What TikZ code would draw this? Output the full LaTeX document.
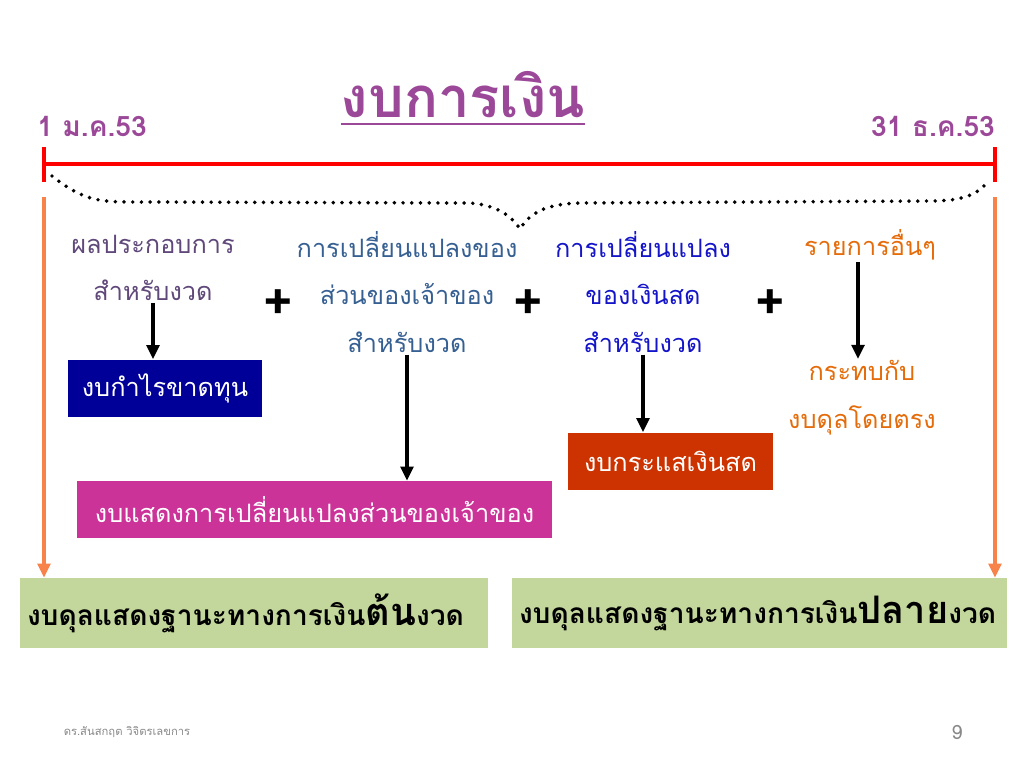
\documentclass[tikz,border=0pt]{standalone}
\usepackage{fontspec}
\setmainfont[Script=Thai]{Loma}
\usetikzlibrary{arrows.meta, positioning, calc}
\definecolor{titlepurple}{RGB}{155,72,152}
\definecolor{linered}{RGB}{255,0,0}
\definecolor{arroworange}{RGB}{247,131,74}
\definecolor{txtplum}{RGB}{96,73,122}
\definecolor{txtsteel}{RGB}{54,96,146}
\definecolor{txtblue}{RGB}{20,20,200}
\definecolor{txtorange}{RGB}{228,108,10}
\definecolor{fillnavy}{RGB}{0,0,153}
\definecolor{fillmagenta}{RGB}{204,51,153}
\definecolor{fillrust}{RGB}{204,51,0}
\definecolor{fillgreen}{RGB}{195,214,155}
\definecolor{footgray}{RGB}{137,137,137}
\newcommand{\px}{0.025cm}

\begin{document}
\begin{tikzpicture}[x=0.025cm, y=-0.025cm,
    coltext/.style={align=center, inner sep=1pt, font=\fontsize{18}{34}\selectfont},
    plus/.style={font=\fontsize{36}{36}\selectfont\bfseries},
    datetxt/.style={titlepurple, font=\fontsize{20}{20}\selectfont\bfseries},
    stmt/.style={minimum height=57*\px, text=white, inner sep=0pt,
                 font=\fontsize{18}{18}\selectfont},
    balance/.style={fill=fillgreen, minimum height=70*\px, text width=#1,
                    inner xsep=7*\px, inner ysep=0pt,
                    font=\fontsize{20}{20}\selectfont\bfseries},
    blk/.style={-{Triangle[width=9pt,length=10pt]}, line width=2.5pt},
    orng/.style={-{Triangle[width=9pt,length=10pt]}, line width=2.8pt, arroworange}
  ]
    \useasboundingbox (0,0) rectangle (1024,768);

    % title and dates
    \node[inner sep=0pt, titlepurple, font=\fontsize{40}{40}\selectfont\bfseries]
      (title) at (463,95) {งบการเงิน};
    \draw[titlepurple, line width=1.4pt]
      ($(title.base west)+(0,6)$) -- ($(title.base east)+(0,6)$);
    \node[datetxt] (start) at (92,126) {1 ม.ค.53};
    \node[datetxt] (end) at (933,126) {31 ธ.ค.53};

    % time line
    \coordinate (tl) at (44,164);
    \coordinate (tr) at (995,164);
    \draw[linered, line width=2.8pt] (tl) -- (tr);
    \draw[linered, line width=2.8pt] (44,147) -- (44,182);
    \draw[linered, line width=2.8pt] (995,147) -- (995,182);

    % dotted brace
    \draw[line width=2.8pt, line cap=round, dash pattern=on 0pt off 6.2pt]
      (52,176) .. controls (85,202) and (100,202) .. (140,202) -- (470,203)
      .. controls (495,205) and (510,214) .. (520,229)
      .. controls (530,213) and (545,204) .. (580,203) -- (930,201)
      .. controls (962,201) and (978,195) .. (988,181);

    % orange side arrows
    \coordinate (ls) at (44,197);
    \coordinate (rs) at (995,197);

    % columns
    \node[coltext, txtplum] (res) at (153,268) {ผลประกอบการ\\สำหรับงวด};
    \node[plus] (p1) at (278,305) {+};
    \node[coltext, txtsteel] (eq) at (407,292) {การเปลี่ยนแปลงของ\\ส่วนของเจ้าของ\\สำหรับงวด};
    \node[plus] (p2) at (528,305) {+};
    \node[coltext, txtblue] (cash) at (643,292) {การเปลี่ยนแปลง\\ของเงินสด\\สำหรับงวด};
    \node[plus] (p3) at (770,305) {+};
    \node[coltext, txtorange] (oth) at (870,245) {รายการอื่นๆ};
    \node[coltext, txtorange] (dir) at (862,398) {กระทบกับ\\งบดุลโดยตรง};

    % statements
    \node[stmt, fill=fillnavy, minimum width=194*\px] (pl) at (165,388) {งบกำไรขาดทุน};
    \node[stmt, fill=fillmagenta, minimum width=475*\px] (eqbox) at (314.5,509.5)
      {งบแสดงการเปลี่ยนแปลงส่วนของเจ้าของ};
    \node[stmt, fill=fillrust, minimum width=205*\px] (cfbox) at (670.5,461) {งบกระแสเงินสด};

    \node[balance=454*\px] (bs1) at (254,613)
      {งบดุลแสดงฐานะทางการเงิน{\fontsize{27}{27}\selectfont ต้น}งวด};
    \node[balance=481*\px] (bs2) at (759.5,613)
      {งบดุลแสดงฐานะทางการเงิน{\fontsize{27}{27}\selectfont ปลาย}งวด};

    % connectors
    \draw[blk] (res.south) -- (res.south |- pl.north);
    \draw[blk] (eq.south) -- (eq.south |- eqbox.north);
    \draw[blk] (cash.south) -- (cash.south |- cfbox.north);
    \draw[blk] ([xshift=-12*\px]oth.south) -- ([xshift=-12*\px]oth.south |- dir.north);
    \draw[orng] (ls) -- (ls |- bs1.north);
    \draw[orng] (rs) -- (rs |- bs2.north);

    % footer
    \node[footgray, font=\fontsize{8}{8}\selectfont] (author) at (127,732) {ดร.สันสกฤต วิจิตรเลขการ};
    \node[footgray, font=\fontsize{14}{14}\selectfont] (page) at (957,732) {9};
  \end{tikzpicture}
\end{document}
